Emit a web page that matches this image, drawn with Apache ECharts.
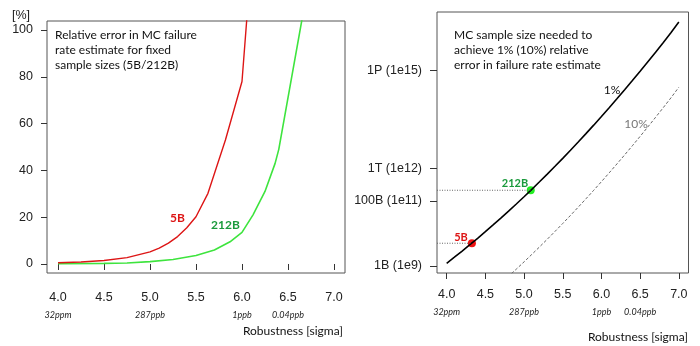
<!DOCTYPE html>
<html><head><meta charset="utf-8">
<script src="https://cdn.jsdelivr.net/npm/echarts@6/dist/echarts.min.js"></script>
<style>html,body{margin:0;padding:0;background:#fff}#c{width:700px;height:346px}</style>
</head><body><div id="c"></div>
<script>
// ---- data ----
const xTicks = [4.0, 4.5, 5.0, 5.5, 6.0, 6.5, 7.0];
const subTickPos = [4.0, 5.0, 6.0, 6.5];
const subTickText = ['32ppm', '287ppb', '1ppb', '0.04ppb'];

// left: relative error [%]
const errTicks = [0, 20, 40, 60, 80, 100];
const err5B_sigma = [4.0, 4.25, 4.5, 4.75, 5.0, 5.1, 5.2, 5.3, 5.4, 5.5, 5.63, 5.82, 6.0, 6.1];
const err5B_val   = [0.5, 0.85, 1.5, 2.7, 5.2, 6.8, 8.9, 11.7, 15.5, 20.2, 30.2, 53, 78, 129];
const err212B_sigma = [4.0, 4.5, 4.75, 5.0, 5.25, 5.5, 5.7, 5.87, 6.0, 6.12, 6.25, 6.36, 6.4, 6.7];
const err212B_val   = [0.1, 0.25, 0.45, 1.0, 1.9, 3.6, 6.0, 9.5, 13.5, 21, 31, 43, 49, 115];

// right: sample size needed (log10 of N)
const sigma = [4.0,4.1,4.2,4.3,4.4,4.5,4.6,4.7,4.8,4.9,5.0,5.1,5.2,5.3,5.4,5.5,5.6,5.7,5.8,5.9,6.0,6.1,6.2,6.3,6.4,6.5,6.6,6.7,6.8,6.9,7.0];
const logN_1pct = [9.084,9.269,9.459,9.653,9.851,10.053,10.260,10.470,10.685,10.904,11.127,11.355,11.586,11.822,12.062,12.306,12.554,12.807,13.064,13.325,13.590,13.860,14.134,14.412,14.694,14.981,15.272,15.567,15.866,16.170,16.490];
const logN_10pct = [7.084,7.269,7.459,7.653,7.851,8.053,8.260,8.470,8.685,8.904,9.127,9.355,9.586,9.822,10.062,10.306,10.554,10.807,11.064,11.325,11.590,11.860,12.134,12.412,12.694,12.981,13.272,13.567,13.866,14.170,14.490];
const sizeTicks = [9, 11, 12, 15];
const sizeTickText = ['1B (1e9)', '100B (1e11)', '1T (1e12)', '1P (1e15)'];
const sampleNames = ['5B', '212B'];
const sampleSigma = [4.326, 5.086];
const sampleLogN = [9.699, 11.326];

// ---- chart ----
const TXT = 'Lato, "Open Sans", sans-serif';
const AX = '"Liberation Sans", Arial, sans-serif';
const zip = (a, b) => a.map((v, i) => [v, b[i]]);
const leftXMin = 3.88, leftXMax = 7.12;
const rightXMin = 3.875, rightXMax = 7.125;

function xLabelFmt(v) {
  const i = subTickPos.findIndex(p => Math.abs(p - v) < 1e-6);
  let s = '{a|' + v.toFixed(1) + '}';
  if (i >= 0) s += '\n{b|' + subTickText[i] + '}';
  return s;
}
function mkX(gridIndex, min, max, margin) {
  return {
    type: 'value', gridIndex, min, max, position: 'bottom',
    axisLine: { show: false }, splitLine: { show: false },
    axisTick: { show: true, length: 6, lineStyle: { color: '#333' }, customValues: xTicks },
    axisLabel: {
      customValues: xTicks, margin, formatter: xLabelFmt,
      rich: {
        a: { fontFamily: AX, fontSize: 12.5, color: '#222', lineHeight: 16 },
        b: { fontFamily: TXT, fontSize: 9, fontStyle: 'italic', color: '#222', lineHeight: 18 }
      }
    }
  };
}

const chart = echarts.init(document.getElementById('c'), null, { renderer: 'canvas' });
chart.setOption({
  animation: false,
  backgroundColor: '#fff',
  grid: [
    { left: 47, top: 21, width: 298, height: 252, show: true, borderColor: '#555', borderWidth: 1, backgroundColor: 'transparent' },
    { left: 437, top: 12, width: 251.5, height: 261, show: true, borderColor: '#555', borderWidth: 1, backgroundColor: 'transparent' }
  ],
  xAxis: [mkX(0, leftXMin, leftXMax, 17), mkX(1, rightXMin, rightXMax, 14)],
  yAxis: [
    {
      type: 'value', gridIndex: 0, min: -3.85, max: 103.85,
      axisLine: { show: false }, splitLine: { show: false },
      axisTick: { show: true, length: 6, lineStyle: { color: '#333' }, customValues: errTicks },
      axisLabel: { customValues: errTicks, margin: 14, fontFamily: AX, fontSize: 12.5, color: '#222' }
    },
    {
      type: 'value', gridIndex: 1, min: 8.785, max: 16.8,
      axisLine: { show: false }, splitLine: { show: false },
      axisTick: { show: true, length: 7, lineStyle: { color: '#333' }, customValues: sizeTicks },
      axisLabel: {
        customValues: sizeTicks, margin: 15, fontFamily: AX, fontSize: 12.5, color: '#222',
        formatter: v => { const i = sizeTicks.findIndex(t => Math.abs(t - v) < 1e-6); return i >= 0 ? sizeTickText[i] : ''; }
      }
    }
  ],
  series: [
    { type: 'line', xAxisIndex: 0, yAxisIndex: 0, data: zip(err212B_sigma, err212B_val), symbol: 'none', clip: true,
      lineStyle: { color: '#3ee43e', width: 1.6 } },
    { type: 'line', xAxisIndex: 0, yAxisIndex: 0, data: zip(err5B_sigma, err5B_val), symbol: 'none', clip: true,
      lineStyle: { color: '#dd1515', width: 1.4 } },
    { type: 'line', xAxisIndex: 1, yAxisIndex: 1, data: zip(sigma, logN_10pct), symbol: 'none', clip: true,
      lineStyle: { color: '#666', width: 1, type: [3, 2] } },
    { type: 'line', xAxisIndex: 1, yAxisIndex: 1, data: zip(sigma, logN_1pct), symbol: 'none', clip: true,
      lineStyle: { color: '#000', width: 1.6 } },
    { type: 'line', xAxisIndex: 1, yAxisIndex: 1, data: [[rightXMin, sampleLogN[0]], [sampleSigma[0], sampleLogN[0]]], symbol: 'none',
      lineStyle: { color: '#666', width: 1, type: [1, 1.5] } },
    { type: 'line', xAxisIndex: 1, yAxisIndex: 1, data: [[rightXMin, sampleLogN[1]], [sampleSigma[1], sampleLogN[1]]], symbol: 'none',
      lineStyle: { color: '#666', width: 1, type: [1, 1.5] } },
    { type: 'scatter', xAxisIndex: 1, yAxisIndex: 1, symbolSize: 8,
      data: sampleNames.map((n, i) => ({ value: [sampleSigma[i], sampleLogN[i]], itemStyle: { color: i === 0 ? '#ee1111' : '#22ee22', opacity: 1 } })) }
  ],
  graphic: [
    { type: 'text', left: 12, top: 9, style: { text: '[%]', font: '12.5px "Liberation Sans", Arial', fill: '#222' } },
    { type: 'text', x: 55, y: 27.5, style: { text: 'Relative error in MC failure\nrate estimate for fixed\nsample sizes (5B/212B)', font: '12px ' + TXT, lineHeight: 15, fill: '#111' } },
    { type: 'text', x: 454, y: 27.5, style: { text: 'MC sample size needed to\nachieve 1% (10%) relative\nerror in failure rate estimate', font: '12px ' + TXT, lineHeight: 15, fill: '#111' } },
    { type: 'text', x: 177.5, y: 218.5, style: { text: '5B', font: 'bold 12px ' + TXT, fill: '#dd1515', align: 'center', verticalAlign: 'middle' } },
    { type: 'text', x: 225.5, y: 225.5, style: { text: '212B', font: 'bold 12px ' + TXT, fill: '#1a9a3c', align: 'center', verticalAlign: 'middle' } },
    { type: 'text', x: 461, y: 237.5, style: { text: '5B', font: 'bold 11px ' + TXT, fill: '#dd1515', align: 'center', verticalAlign: 'middle' } },
    { type: 'text', x: 515, y: 183.5, style: { text: '212B', font: 'bold 11px ' + TXT, fill: '#1a9a3c', align: 'center', verticalAlign: 'middle' } },
    { type: 'text', x: 612, y: 90.5, style: { text: '1%', font: '12px ' + TXT, fill: '#111', align: 'center', verticalAlign: 'middle' } },
    { type: 'text', x: 636, y: 124, style: { text: '10%', font: '12px ' + TXT, fill: '#777', align: 'center', verticalAlign: 'middle' } },
    { type: 'text', x: 343, y: 331.5, style: { text: 'Robustness [sigma]', font: '12px ' + TXT, fill: '#111', align: 'right', verticalAlign: 'middle' } },
    { type: 'text', x: 688, y: 337.5, style: { text: 'Robustness [sigma]', font: '12px ' + TXT, fill: '#111', align: 'right', verticalAlign: 'middle' } }
  ]
});
</script>
</body></html>
